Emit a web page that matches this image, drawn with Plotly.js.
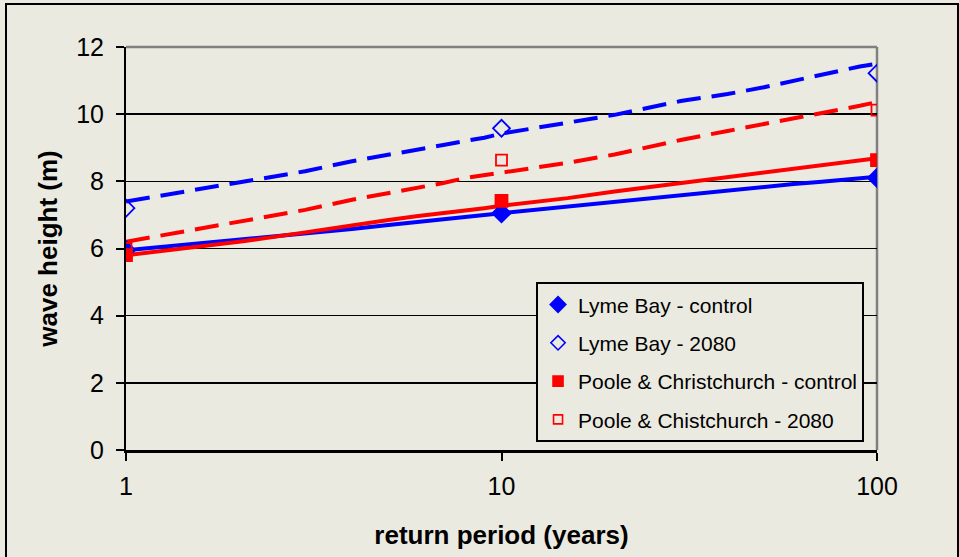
<!DOCTYPE html>
<html>
<head>
<meta charset="utf-8">
<script src="https://cdn.plot.ly/plotly-3.0.1.min.js"></script>
<style>
  html, body { margin: 0; padding: 0; background: #EBEAE0; }
  #chart { width: 959px; height: 557px; }
  #frame { position: absolute; left: 5px; top: 3px; width: 950px; height: 570px; border: 2px solid #000; pointer-events: none; }
</style>
</head>
<body>
<div id="chart"></div>
<div id="frame"></div>
<script>
// Observed points (return period in years, wave height in m)
const periods = [1, 10, 100];
const lymeControl = [5.95, 7.05, 8.1];
const lyme2080 = [7.2, 9.58, 11.22];
const pooleControl = [5.8, 7.42, 8.63];
const poole2080 = [6.0, 8.63, 10.12];

// Fitted curves
const fitPeriods = [1, 2, 3, 4, 5, 6, 7, 8, 9, 10, 15, 20, 30, 40, 50, 60, 70, 80, 90, 100];
const lymeControlFit = [5.95, 6.25, 6.45, 6.58, 6.7, 6.8, 6.88, 6.95, 7.0, 7.05, 7.25, 7.38, 7.59, 7.72, 7.83, 7.92, 7.98, 8.05, 8.1, 8.14];
const lyme2080Fit = [7.4, 7.95, 8.3, 8.6, 8.78, 8.95, 9.08, 9.2, 9.3, 9.42, 9.75, 9.98, 10.39, 10.6, 10.8, 11.0, 11.15, 11.3, 11.42, 11.5];
const pooleControlFit = [5.8, 6.2, 6.48, 6.7, 6.85, 6.97, 7.05, 7.13, 7.2, 7.27, 7.5, 7.7, 7.95, 8.12, 8.27, 8.38, 8.47, 8.55, 8.63, 8.69];
const poole2080Fit = [6.2, 6.8, 7.15, 7.45, 7.65, 7.8, 7.95, 8.1, 8.18, 8.25, 8.55, 8.8, 9.23, 9.5, 9.7, 9.87, 10.0, 10.12, 10.25, 10.36];

const seriesNames = ["Lyme Bay - control", "Lyme Bay - 2080", "Poole & Christchurch - control", "Poole & Chistchurch - 2080"];
const xTickVals = [1, 10, 100];
const xTickText = ["1", "10", "100"];

const BLUE = "#0000FF", RED = "#FF0000", BG = "#EBEAE0";
const DASH = "24px,11px";

function fitLine(y, color, dash) {
  return { x: fitPeriods, y: y, type: "scatter", mode: "lines", showlegend: false, hoverinfo: "skip",
           line: { color: color, width: 4, dash: dash } };
}
function pts(y, name, symbol, color, size) {
  return { x: periods, y: y, type: "scatter", mode: "markers", name: name, showlegend: false,
           marker: { symbol: symbol, color: color, size: size, line: { color: color, width: 1.8 } } };
}
// legend entries (smaller symbols, as in the original legend)
function legendEntry(name, symbol, color, size, group) {
  return { x: [null], y: [null], type: "scatter", mode: "markers", name: name, legendgroup: group, showlegend: true,
           marker: { symbol: symbol, color: color, size: size, line: { color: color, width: 1.6 } } };
}

const data = [
  fitLine(lymeControlFit, BLUE, "solid"),
  fitLine(pooleControlFit, RED, "solid"),
  fitLine(lyme2080Fit, BLUE, DASH),
  fitLine(poole2080Fit, RED, DASH),
  pts(lymeControl, seriesNames[0], "diamond", BLUE, 14),
  pts(lyme2080, seriesNames[1], "diamond-open", BLUE, 13),
  pts(pooleControl, seriesNames[2], "square", RED, 12),
  pts(poole2080, seriesNames[3], "square-open", RED, 11),
  legendEntry(seriesNames[0], "diamond", BLUE, 12, "a"),
  legendEntry(seriesNames[1], "diamond-open", BLUE, 11, "b"),
  legendEntry(seriesNames[2], "square", RED, 10, "c"),
  legendEntry(seriesNames[3], "square-open", RED, 9, "d")
];

const font = "Arial, 'Liberation Sans', sans-serif";
const layout = {
  width: 959, height: 557,
  margin: { l: 126, r: 82, t: 47, b: 107 },
  paper_bgcolor: BG, plot_bgcolor: BG,
  font: { family: font, color: "#000" },
  showlegend: true,
  legend: {
    x: 0.546, y: 0.416, xanchor: "left", yanchor: "top",
    bgcolor: BG, bordercolor: "#000", borderwidth: 2,
    font: { family: font, size: 21, color: "#000" },
    traceorder: "grouped", tracegroupgap: 8, itemwidth: 30
  },
  xaxis: {
    type: "log", range: [0, 2],
    tickvals: xTickVals, ticktext: xTickText,
    showgrid: false, zeroline: false,
    showline: true, linecolor: "#000", linewidth: 3,
    ticks: "outside", ticklen: 8, tickwidth: 2, tickcolor: "#000",
    ticklabelstandoff: 4,
    tickfont: { family: font, size: 25 },
    title: { text: "<b>return period (years)</b>", font: { family: font, size: 26 }, standoff: 27 }
  },
  yaxis: {
    range: [0, 12], dtick: 2, tick0: 0,
    showgrid: true, gridcolor: "#000", gridwidth: 1.5,
    zeroline: false,
    showline: true, linecolor: "#000", linewidth: 2,
    ticks: "outside", ticklen: 8, tickwidth: 2, tickcolor: "#000",
    ticklabelstandoff: 7,
    tickfont: { family: font, size: 25 },
    title: { text: "<b>wave height (m)</b>", font: { family: font, size: 26 }, standoff: 11 }
  },
  shapes: [
    { type: "line", xref: "paper", yref: "paper", x0: 0, x1: 1, y0: 1, y1: 1, line: { color: "#808080", width: 2.5 }, layer: "between" },
    { type: "line", xref: "paper", yref: "paper", x0: 1, x1: 1, y0: 0, y1: 1, line: { color: "#808080", width: 2.5 }, layer: "between" }
  ]
};

Plotly.newPlot("chart", data, layout, { staticPlot: true, displayModeBar: false });
</script>
</body>
</html>
